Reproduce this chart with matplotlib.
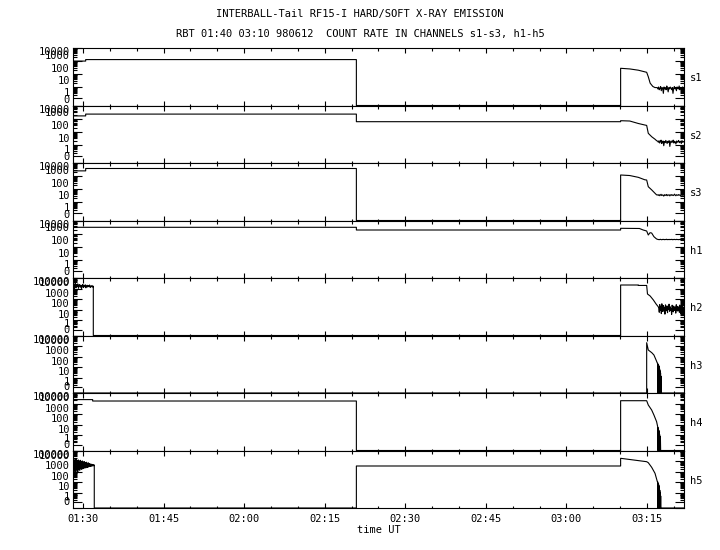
import numpy as np
import matplotlib
matplotlib.use("Agg")
import matplotlib.pyplot as plt
from matplotlib.ticker import FixedLocator, NullFormatter
from matplotlib.transforms import ScaledTranslation

plt.rcParams['font.family'] = ['DejaVu Sans Mono']
plt.rcParams['font.size'] = 7.5

# times are minutes after 00:00 UT, values are counts
names = ['s1', 's2', 's3', 'h1', 'h2', 'h3', 'h4', 'h5']
tops = [10000, 10000, 10000, 10000, 100000, 100000, 100000, 100000]

# s1
t_s1 = [88.0, 90.5, 90.5, 140.9, 140.9, 190.1, 190.1, 191.8, 193.4, 194.6, 194.95, 195.25, 195.6, 196.1, 196.5]
v_s1 = [1000, 1000, 1300, 1300, 0, 0, 280, 250, 200, 150, 138, 63, 20, 11, 9]
n_s1 = [9, 7, 10, 6, 8, 11, 5, 9, 8, 3, 10, 7, 9, 6, 12, 8, 4, 9, 7, 10,
        8, 6, 9, 3, 8, 11, 7, 9, 5, 10, 8, 7, 12, 6, 9, 8, 4, 10, 7, 9]
# s2
t_s2 = [88.0, 90.5, 90.5, 140.9, 140.9, 190.1, 190.1, 191.8, 193.4, 194.6, 194.95, 195.25, 195.9, 196.5, 196.8]
v_s2 = [1600, 1600, 2200, 2200, 577, 577, 687, 650, 420, 322, 300, 74, 40, 26, 20]
n_s2 = [18, 15, 20, 13, 17, 22, 12, 16, 19, 8, 17, 14, 21, 16, 12, 18, 15, 20, 7, 16,
        19, 14, 17, 22, 13, 18, 16, 11, 19, 15, 17, 21, 14, 16, 18, 12, 20, 15, 17, 16]
# s3
t_s3 = [88.0, 90.5, 90.5, 140.9, 140.9, 190.1, 190.1, 191.8, 193.4, 194.6, 194.95, 195.25, 195.9, 196.5, 196.8]
v_s3 = [2500, 2500, 3800, 3800, 0, 0, 1210, 1100, 800, 520, 500, 153, 86, 48, 36]
n_s3 = [36, 33, 38, 31, 35, 40, 32, 36, 34, 29, 37, 35, 33, 39, 31, 36, 34, 37, 30, 35,
        38, 33, 36, 32, 35, 41, 34, 31, 37, 35, 33, 38, 34, 36, 30, 35, 37, 33, 36, 34]
# h1
t_h1 = [88.0, 140.9, 140.9, 190.1, 190.1, 193.6, 194.3, 194.95, 195.25, 195.57, 195.88, 196.3, 196.8]
v_h1 = [3020, 3020, 1875, 1875, 2530, 2450, 1875, 1573, 778, 1167, 1100, 577, 384]
n_h1 = [360, 345, 355, 340, 365, 350, 335, 358, 347, 362, 340, 352, 348, 370, 338, 355, 346, 360, 342, 353,
        349, 365, 337, 356, 344, 359, 350, 341, 362, 348, 353, 339, 357, 346, 361, 343, 351, 355, 340, 350]
# h2 (noisy start, then block after 03:10)
h2_start = [30000, 15000, 26000, 9000, 20000, 34000, 12000, 22000, 16000, 28000, 11000, 19000,
            24000, 14000, 21000, 10000, 18000, 25000, 13000, 20000, 15000, 23000, 12000, 17000,
            21000, 14000, 19000, 16000, 22000, 13000, 18000, 15000, 20000, 14000, 17000]
t_h2 = [91.92, 190.1, 190.1, 193.4, 193.4, 194.95, 195.1, 195.6, 196.2, 196.7, 197.1]
v_h2 = [0, 0, 22000, 22000, 20000, 20000, 3150, 2040, 860, 363, 202]
n_h2 = [150, 60, 320, 90, 210, 45, 380, 120, 70, 260, 100, 180, 40, 300, 130, 85, 240, 55, 170, 110,
        350, 75, 200, 95, 140, 38, 280, 115, 65, 230, 150, 90, 190, 50, 310, 125, 80, 220, 105, 160,
        60, 290, 140, 45, 210, 100, 330, 70, 180, 120]
# h3
t_h3 = [88.0, 194.95, 194.95, 195.25, 195.9, 196.3, 196.7, 196.95]
v_h3 = [0, 0, 21100, 4350, 2430, 1480, 500, 245]
n_h3 = [245, 0, 200, 3, 180, 0, 150, 5, 120, 0, 90, 2, 60, 0, 40, 1, 30, 0, 15, 0, 8, 0]
# h4
t_h4 = [88.0, 91.8, 91.8, 140.9, 140.9, 190.1, 190.1, 194.95, 195.25, 195.88, 196.3, 196.8, 197.0]
v_h4 = [24000, 24000, 17700, 17700, 0, 0, 18900, 18900, 7460, 2530, 860, 202, 68]
n_h4 = [68, 0, 55, 2, 40, 0, 30, 3, 20, 0, 12, 1, 8, 0, 4, 0]
# h5 (noisy start, then step at 02:21 and block after 03:10)
h5_start = [18000, 900, 15000, 700, 12000, 1200, 16000, 800, 14000, 1500, 11000, 1000, 13000,
            1800, 10000, 1400, 12000, 2000, 9000, 1700, 10500, 2200, 8500, 2000, 9000, 2500,
            7500, 2300, 8000, 2800, 6500, 2600, 7000, 3000, 6000, 3100, 5500, 3300, 5200, 3400,
            4900, 3600, 4700, 3700, 4400]
t_h5 = [92.1, 140.9, 140.9, 190.1, 190.1, 194.95, 195.25, 195.88, 196.5, 196.94]
v_h5 = [0, 0, 3510, 3510, 18500, 8890, 7160, 2650, 724, 117]
n_h5 = [117, 0, 90, 3, 70, 0, 50, 2, 30, 0, 18, 1, 10, 0, 5, 0]

t_end = 201.9

# assemble each channel: breakpoints plus the noisy samples
series = {}
series['s1'] = (t_s1 + list(np.linspace(196.9, t_end, len(n_s1))), v_s1 + n_s1)
series['s2'] = (t_s2 + list(np.linspace(197.0, t_end, len(n_s2))), v_s2 + n_s2)
series['s3'] = (t_s3 + list(np.linspace(197.0, t_end, len(n_s3))), v_s3 + n_s3)
series['h1'] = (t_h1 + list(np.linspace(197.0, t_end, len(n_h1))), v_h1 + n_h1)
series['h2'] = (list(np.linspace(88.0, 91.92, len(h2_start))) + t_h2 + list(np.linspace(197.2, t_end, len(n_h2))),
                h2_start + v_h2 + n_h2)
series['h3'] = (t_h3 + list(np.linspace(197.0, 197.7, len(n_h3))) + [t_end], v_h3 + n_h3 + [0])
series['h4'] = (t_h4 + list(np.linspace(197.0, 197.55, len(n_h4))) + [t_end], v_h4 + n_h4 + [0])
series['h5'] = (list(np.linspace(88.0, 92.1, len(h5_start))) + t_h5 + list(np.linspace(197.0, 197.6, len(n_h5))) + [t_end],
                h5_start + v_h5 + n_h5 + [0])


def fwd(v):
    return np.log10(np.clip(v, 0, None) + 0.4)


def inv(f):
    return 10.0 ** f - 0.4


W, H = 720, 550
fig = plt.figure(figsize=(7.2, 5.5), dpi=100)
left, right = 73, 684
top0, ph = 48, 57.5

fig.text(0.5, 1 - 14 / H, 'INTERBALL-Tail RF15-I HARD/SOFT X-RAY EMISSION', ha='center', va='center')
fig.text(0.5, 1 - 34 / H, 'RBT 01:40 03:10 980612  COUNT RATE IN CHANNELS s1-s3, h1-h5', ha='center', va='center')

up = ScaledTranslation(0, 4 / 72, fig.dpi_scale_trans)
down = ScaledTranslation(0, -3 / 72, fig.dpi_scale_trans)

axes = []
for i, name in enumerate(names):
    y_top = top0 + i * ph
    ax = fig.add_axes([left / W, 1 - (y_top + ph) / H, (right - left) / W, ph / H])
    t, v = series[name]
    ax.plot(t, v, color='k', lw=0.8)
    ax.set_yscale('function', functions=(fwd, inv))
    ax.set_ylim(0, tops[i])
    ax.set_xlim(88.14, t_end)

    ndec = int(round(np.log10(tops[i])))
    major = [0] + [10 ** d for d in range(ndec + 1)]
    minor = [k * 10 ** d for d in range(ndec) for k in range(2, 10)]
    ax.yaxis.set_major_locator(FixedLocator(major))
    ax.yaxis.set_minor_locator(FixedLocator(minor))
    ax.yaxis.set_major_formatter(NullFormatter())
    ax.yaxis.set_minor_formatter(NullFormatter())
    # labels sit a little above their ticks, like the original plot
    for val in major:
        off = down if val == tops[i] else up
        ax.text(-0.005, val, str(val), transform=ax.get_yaxis_transform() + off,
                ha='right', va='center')

    ax.xaxis.set_major_locator(FixedLocator(np.arange(90, 200, 15)))
    ax.xaxis.set_minor_locator(FixedLocator(np.arange(90, 205, 5)))
    ax.tick_params(which='both', direction='in', top=True, right=True, width=0.8)
    ax.tick_params(axis='y', which='major', length=6.5)
    ax.tick_params(axis='y', which='minor', length=3.2)
    ax.tick_params(axis='x', which='major', length=3.6)
    ax.tick_params(axis='x', which='minor', length=1.8)
    for sp in ax.spines.values():
        sp.set_linewidth(0.8)
    ax.text(1.01, 0.47, name, transform=ax.transAxes, ha='left', va='center')
    if i < len(names) - 1:
        ax.xaxis.set_major_formatter(NullFormatter())
    axes.append(ax)

bottom_ax = axes[-1]
bottom_ax.set_xticklabels(['%02d:%02d' % (m // 60, m % 60) for m in np.arange(90, 200, 15)])
bottom_ax.tick_params(axis='x', which='major', pad=4)
bottom_ax.set_xlabel('time UT', labelpad=1)

fig.savefig('out.png', dpi=100)
